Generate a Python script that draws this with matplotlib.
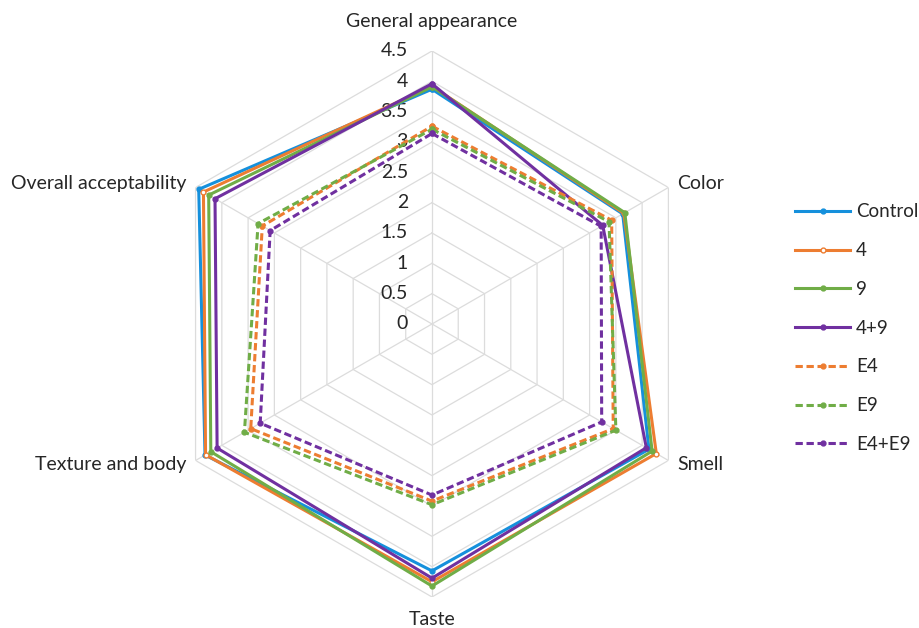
import matplotlib
matplotlib.use('Agg')

import matplotlib.pyplot as plt
import matplotlib.transforms as mtransforms
import numpy as np

plt.rcParams['font.family'] = ['Lato', 'DejaVu Sans']

# ─── data ───

categories = ['General appearance', 'Color', 'Smell', 'Taste',
              'Texture and body', 'Overall acceptability']
r_ticks = [0, 0.5, 1, 1.5, 2, 2.5, 3, 3.5, 4, 4.5]
r_tick_labels = ['0', '0.5', '1', '1.5', '2', '2.5', '3', '3.5', '4', '4.5']

series_names = ['Control', '4', '9', '4+9', 'E4', 'E9', 'E4+E9']
control = [3.87, 3.63, 4.13, 4.07, 4.32, 4.44]
s_4 = [3.92, 3.65, 4.27, 4.25, 4.31, 4.35]
s_9 = [3.91, 3.67, 4.19, 4.32, 4.21, 4.25]
s_4_9 = [3.96, 3.25, 4.08, 4.19, 4.09, 4.13]
s_e4 = [3.26, 3.42, 3.45, 2.92, 3.45, 3.23]
s_e9 = [3.21, 3.37, 3.50, 2.98, 3.57, 3.31]
s_e4_e9 = [3.14, 3.22, 3.23, 2.82, 3.27, 3.08]
series_values = [control, s_4, s_9, s_4_9, s_e4, s_e9, s_e4_e9]

# ─── styles ───

BLUE = '#1590DC'
ORANGE = '#ED7D31'
GREEN = '#70AD47'
PURPLE = '#7030A0'
GRID = '#DCDCDC'

series_colors = [BLUE, ORANGE, GREEN, PURPLE, ORANGE, GREEN, PURPLE]
series_dashed = [False, False, False, False, True, True, True]
DASH = (0, (2.4, 1.2))

FS = 14
FS_LEGEND = 13.5

fig = plt.figure(figsize=(9.2, 6.28), dpi=100)
ax = fig.add_axes([0.1728, 0.0494, 0.5935, 0.8694], projection='polar')
ax.set_theta_offset(np.pi / 2)
ax.set_theta_direction(-1)
ax.set_ylim(0, r_ticks[-1])
ax.grid(False)
ax.spines['polar'].set_visible(False)
ax.set_xticks([])
ax.set_yticks([])
ax.patch.set_alpha(0)

n = len(categories)
angles = np.arange(n) * 2 * np.pi / n
angles_closed = np.append(angles, angles[0])

# hexagonal rings and spokes
for r in r_ticks[1:]:
    ax.plot(angles_closed, [r] * (n + 1), color=GRID, lw=0.9, zorder=0)
for a in angles:
    ax.plot([a, a], [0, r_ticks[-1]], color=GRID, lw=0.9, zorder=0)

# radial tick labels, left of the top spoke
tick_tr = mtransforms.offset_copy(ax.transData, fig=fig, x=-24, y=0, units='dots')
for r, lab in zip(r_ticks, r_tick_labels):
    ax.text(0, r, lab, transform=tick_tr, ha='right', va='center',
            fontsize=FS, color='#262626')

# category labels around the outer ring
label_offsets = [(0, 29), (9, 4), (9, -4), (0, -23), (-9, -4), (-9, 4)]
label_ha = ['center', 'left', 'left', 'center', 'right', 'right']
for a, cat, (dx, dy), ha in zip(angles, categories, label_offsets, label_ha):
    tr = mtransforms.offset_copy(ax.transData, fig=fig, x=dx, y=dy, units='dots')
    ax.text(a, r_ticks[-1], cat, transform=tr, ha=ha, va='center',
            fontsize=FS, color='#262626')

# series
handles = []
for name, vals, color, dashed in zip(series_names, series_values,
                                     series_colors, series_dashed):
    v = np.append(vals, vals[0])
    mfc = 'white' if name == '4' else color
    line, = ax.plot(angles_closed, v, color=color, lw=2.2,
                    linestyle=DASH if dashed else '-',
                    marker='o', markersize=3.5, markerfacecolor=mfc,
                    markeredgecolor=color, markeredgewidth=1.0,
                    solid_joinstyle='miter', dash_joinstyle='miter',
                    label=name, zorder=3)
    handles.append(line)

fig.legend(handles=handles, loc='center left', bbox_to_anchor=(0.864, 0.4775),
           frameon=False, fontsize=FS_LEGEND, handlelength=2.95, handletextpad=0.3,
           labelspacing=1.16, borderaxespad=0, borderpad=0, numpoints=1,
           labelcolor='#262626')

fig.savefig('out.png', dpi=100, facecolor='white')
